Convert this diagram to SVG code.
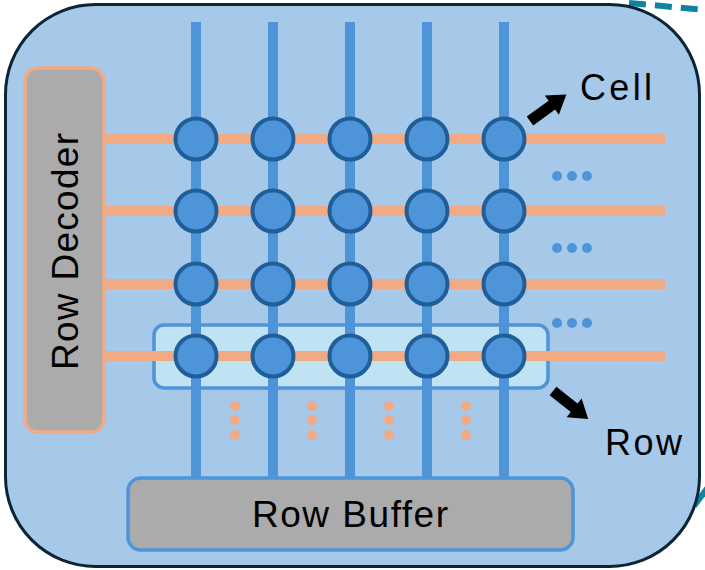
<svg xmlns="http://www.w3.org/2000/svg" xmlns:xlink="http://www.w3.org/1999/xlink" width="705" height="570" viewBox="0 0 705 570">
  <style>
    .label { font-family: "Liberation Sans", Arial, sans-serif; fill: #000; }
    .wordline { stroke: #f2aa84; stroke-width: 10; }
    .bitline { stroke: #4d94d9; stroke-width: 10; }
    .cell { fill: #4d94d9; stroke: #1f5e99; stroke-width: 4; }
    .bdot { fill: #4d94d9; }
    .odot { fill: #f2aa84; }
    .link { stroke: #0f84a0; stroke-width: 6; fill: none; }
  </style>
  <defs>
    <path id="arrow" d="M0,-5.5 L27,-5.5 L27,-12 L45,0 L27,12 L27,5.5 L0,5.5 Z" fill="#000"/>
  </defs>

  <!-- dashed links leaving the bank -->
  <g id="links">
    <path class="link" d="M629,3 L706,10" stroke-dasharray="17 9"/>
    <path class="link" d="M694,506 L712,482"/>
  </g>

  <!-- bank panel -->
  <g id="bank">
    <rect x="5.5" y="4.5" width="694" height="562" rx="90" ry="90" fill="#a6c9ea" stroke="#0b2536" stroke-width="3"/>
  </g>

  <!-- row decoder -->
  <g id="row-decoder">
    <rect x="25" y="68" width="79" height="364" rx="13" fill="#ababab" stroke="#f2aa84" stroke-width="3.5"/>
    <text class="label" transform="translate(78,251.5) rotate(-90)" text-anchor="middle" font-size="37" textLength="237">Row Decoder</text>
  </g>

  <!-- row buffer -->
  <g id="row-buffer">
    <rect x="128" y="478" width="445" height="72" rx="13" fill="#ababab" stroke="#4d94d9" stroke-width="3.5"/>
    <text class="label" x="350" y="527" text-anchor="middle" font-size="37" textLength="196">Row Buffer</text>
  </g>

  <!-- highlighted row -->
  <g id="row-highlight">
    <rect x="154" y="325" width="394" height="63" rx="10" fill="#c0e3f4" stroke="#4d94d9" stroke-width="3.5"/>
  </g>

  <!-- word lines and bit lines -->
  <g id="connectors">
    <line class="wordline" x1="104" y1="139" x2="665" y2="139"/>
    <line class="wordline" x1="104" y1="211" x2="665" y2="211"/>
    <line class="wordline" x1="104" y1="284" x2="665" y2="284"/>
    <line class="wordline" x1="104" y1="356" x2="665" y2="356"/>
    <line class="bitline" x1="196" y1="22" x2="196" y2="478"/>
    <line class="bitline" x1="273" y1="22" x2="273" y2="478"/>
    <line class="bitline" x1="350" y1="22" x2="350" y2="478"/>
    <line class="bitline" x1="427" y1="22" x2="427" y2="478"/>
    <line class="bitline" x1="504" y1="22" x2="504" y2="478"/>
    <use xlink:href="#arrow" transform="translate(530,121) rotate(-36)"/>
    <use xlink:href="#arrow" transform="translate(553,391) rotate(38.5)"/>
  </g>

  <!-- memory cells -->
  <g id="cells">
    <g id="cell-1-1"><circle class="cell" cx="196" cy="139" r="20.5"/></g>
    <g id="cell-1-2"><circle class="cell" cx="273" cy="139" r="20.5"/></g>
    <g id="cell-1-3"><circle class="cell" cx="350" cy="139" r="20.5"/></g>
    <g id="cell-1-4"><circle class="cell" cx="427" cy="139" r="20.5"/></g>
    <g id="cell-1-5"><circle class="cell" cx="504" cy="139" r="20.5"/></g>
    <g id="cell-2-1"><circle class="cell" cx="196" cy="211" r="20.5"/></g>
    <g id="cell-2-2"><circle class="cell" cx="273" cy="211" r="20.5"/></g>
    <g id="cell-2-3"><circle class="cell" cx="350" cy="211" r="20.5"/></g>
    <g id="cell-2-4"><circle class="cell" cx="427" cy="211" r="20.5"/></g>
    <g id="cell-2-5"><circle class="cell" cx="504" cy="211" r="20.5"/></g>
    <g id="cell-3-1"><circle class="cell" cx="196" cy="284" r="20.5"/></g>
    <g id="cell-3-2"><circle class="cell" cx="273" cy="284" r="20.5"/></g>
    <g id="cell-3-3"><circle class="cell" cx="350" cy="284" r="20.5"/></g>
    <g id="cell-3-4"><circle class="cell" cx="427" cy="284" r="20.5"/></g>
    <g id="cell-3-5"><circle class="cell" cx="504" cy="284" r="20.5"/></g>
    <g id="cell-4-1"><circle class="cell" cx="196" cy="356" r="20.5"/></g>
    <g id="cell-4-2"><circle class="cell" cx="273" cy="356" r="20.5"/></g>
    <g id="cell-4-3"><circle class="cell" cx="350" cy="356" r="20.5"/></g>
    <g id="cell-4-4"><circle class="cell" cx="427" cy="356" r="20.5"/></g>
    <g id="cell-4-5"><circle class="cell" cx="504" cy="356" r="20.5"/></g>
  </g>

  <!-- continuation dots -->
  <g id="ellipses">
    <circle class="bdot" cx="557" cy="176" r="5"/>
    <circle class="bdot" cx="572" cy="176" r="5"/>
    <circle class="bdot" cx="587" cy="176" r="5"/>
    <circle class="bdot" cx="557" cy="248" r="5"/>
    <circle class="bdot" cx="572" cy="248" r="5"/>
    <circle class="bdot" cx="587" cy="248" r="5"/>
    <circle class="bdot" cx="557" cy="323" r="5"/>
    <circle class="bdot" cx="572" cy="323" r="5"/>
    <circle class="bdot" cx="587" cy="323" r="5"/>
    <circle class="odot" cx="235" cy="406" r="5"/>
    <circle class="odot" cx="235" cy="420" r="5"/>
    <circle class="odot" cx="235" cy="435" r="5"/>
    <circle class="odot" cx="312" cy="406" r="5"/>
    <circle class="odot" cx="312" cy="420" r="5"/>
    <circle class="odot" cx="312" cy="435" r="5"/>
    <circle class="odot" cx="389" cy="406" r="5"/>
    <circle class="odot" cx="389" cy="420" r="5"/>
    <circle class="odot" cx="389" cy="435" r="5"/>
    <circle class="odot" cx="466" cy="406" r="5"/>
    <circle class="odot" cx="466" cy="420" r="5"/>
    <circle class="odot" cx="466" cy="435" r="5"/>
  </g>

  <!-- callout labels -->
  <g id="labels">
    <text class="label" x="580" y="100" font-size="36" textLength="72">Cell</text>
    <text class="label" x="605" y="455" font-size="36" textLength="77">Row</text>
  </g>
</svg>
